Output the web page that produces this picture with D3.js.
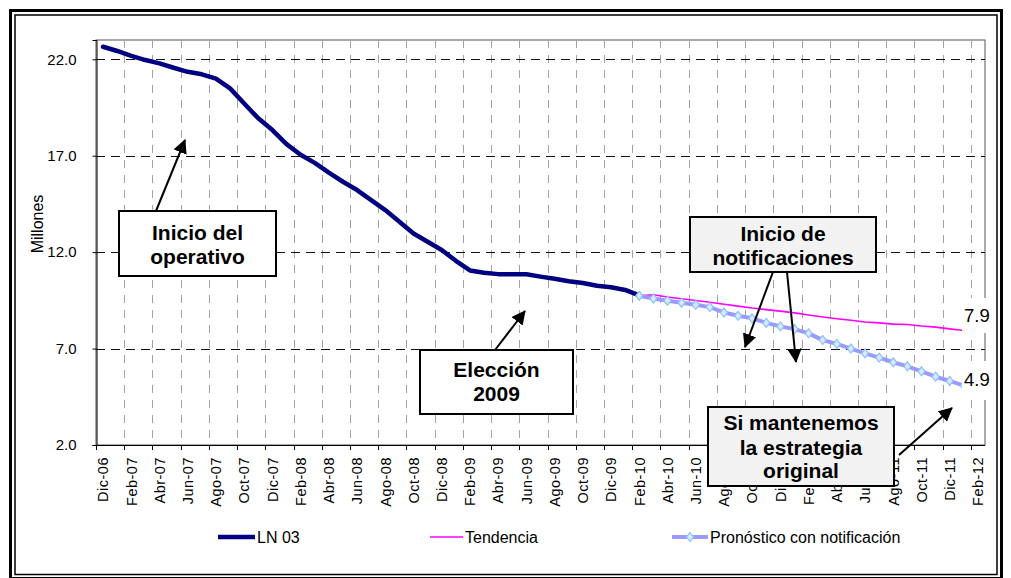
<!DOCTYPE html>
<html><head><meta charset="utf-8">
<script src="https://cdn.jsdelivr.net/npm/d3@7"></script>
<style>
html,body{margin:0;padding:0;background:#fff;}
svg{display:block;font-family:"Liberation Sans",Arial,sans-serif;}
</style></head>
<body>
<svg id="chart" width="1011" height="578"></svg>
<script>
// ---- Data ----
const months = ["Dic-06","Ene-07","Feb-07","Mar-07","Abr-07","May-07","Jun-07","Jul-07","Ago-07","Sep-07","Oct-07","Nov-07",
"Dic-07","Ene-08","Feb-08","Mar-08","Abr-08","May-08","Jun-08","Jul-08","Ago-08","Sep-08","Oct-08","Nov-08",
"Dic-08","Ene-09","Feb-09","Mar-09","Abr-09","May-09","Jun-09","Jul-09","Ago-09","Sep-09","Oct-09","Nov-09",
"Dic-09","Ene-10","Feb-10","Mar-10","Abr-10","May-10","Jun-10","Jul-10","Ago-10","Sep-10","Oct-10","Nov-10",
"Dic-10","Ene-11","Feb-11","Mar-11","Abr-11","May-11","Jun-11","Jul-11","Ago-11","Sep-11","Oct-11","Nov-11",
"Dic-11","Ene-12","Feb-12"];

// LN 03 (Dic-06 .. Feb-10)
const ln03 = [22.65,22.43,22.18,21.96,21.79,21.56,21.35,21.22,21.00,20.49,19.71,18.94,
18.33,17.60,17.05,16.63,16.12,15.65,15.22,14.70,14.18,13.58,12.97,12.54,
12.11,11.55,11.05,10.93,10.86,10.85,10.85,10.73,10.62,10.49,10.40,10.26,
10.18,10.04,9.76];

// Tendencia (Feb-10 .. Ene-12)
const tendencia = [9.74,9.79,9.67,9.58,9.49,9.40,9.30,9.20,9.10,9.02,8.94,8.85,
8.74,8.64,8.55,8.47,8.38,8.33,8.27,8.25,8.17,8.11,8.02,7.94];

// Pronóstico con notificación (Feb-10 .. Ene-12)
const pronostico = [9.74,9.60,9.48,9.38,9.27,9.15,8.87,8.70,8.57,8.33,8.15,8.01,
7.79,7.44,7.24,7.00,6.75,6.53,6.29,6.08,5.82,5.54,5.32,5.08];

const forecastStart = "Feb-10";
const yTicks = [2,7,12,17,22];
const yLabel = "Millones";
const legendNames = ["LN 03","Tendencia","Pronóstico con notificación"];
const endLabels = ["7.9","4.9"];

// ---- Layout ----
const svg = d3.select("#chart");
const L = 96, R = 985, T = 40, B = 445;

// frame
svg.append("rect").attr("x",10.5).attr("y",10.5).attr("width",991).attr("height",568)
  .attr("fill","none").attr("stroke","#000").attr("stroke-width",3);
svg.append("rect").attr("x",15).attr("y",15).attr("width",982).attr("height",559.5)
  .attr("fill","none").attr("stroke","#000").attr("stroke-width",1.5);

const x = d3.scaleBand().domain(months).range([L,R]).paddingInner(0).paddingOuter(0);
const bw = x.bandwidth();
const cx = m => x(m) + bw/2;
const y = d3.scaleLinear().domain([2,23]).range([B,T]);

// plot area
svg.append("rect").attr("x",L).attr("y",T).attr("width",R-L).attr("height",B-T)
  .attr("fill","#fff").attr("stroke","#555").attr("stroke-width",1);

// vertical gridlines
const gridMonths = months.filter((m,i)=> i>0 && i%2===0);
svg.append("g").selectAll("line").data(gridMonths).join("line")
  .attr("x1",d=>Math.round(x(d))+0.5).attr("x2",d=>Math.round(x(d))+0.5)
  .attr("y1",T).attr("y2",B)
  .attr("stroke","#a3a3a3").attr("stroke-width",1).attr("stroke-dasharray","8,7");

// horizontal gridlines
svg.append("g").selectAll("line").data(yTicks.filter(v=>v>2)).join("line")
  .attr("x1",L).attr("x2",R)
  .attr("y1",d=>Math.round(y(d))+0.5).attr("y2",d=>Math.round(y(d))+0.5)
  .attr("stroke","#111").attr("stroke-width",1).attr("stroke-dasharray","9,6");

// Y axis
const yAxis = d3.axisLeft(y).tickValues(yTicks).tickFormat(d3.format(".1f")).tickSize(4).tickPadding(16);
const gy = svg.append("g").attr("transform",`translate(${L+0.5},0)`).call(yAxis);
gy.select(".domain").attr("stroke","#000");
gy.selectAll(".tick line").attr("stroke","#000");
gy.selectAll(".tick text").attr("font-size",15).attr("fill","#000")
  .attr("font-family","'Liberation Sans',Arial,sans-serif");

// X axis (ticks at category boundaries every 2)
const gx = svg.append("g");
gx.append("line").attr("x1",L).attr("x2",R).attr("y1",B+0.5).attr("y2",B+0.5).attr("stroke","#000");
gx.selectAll(".xt").data(months.filter((m,i)=>i%2===0)).join("line").attr("class","xt")
  .attr("x1",d=>Math.round(x(d))+0.5).attr("x2",d=>Math.round(x(d))+0.5)
  .attr("y1",B).attr("y2",B+5).attr("stroke","#000");
gx.selectAll("text").data(months.filter((m,i)=>i%2===0)).join("text")
  .attr("transform",d=>`translate(${cx(d)},${B+12}) rotate(-90)`)
  .attr("text-anchor","end").attr("dy","0.36em")
  .attr("font-size",14.5).attr("letter-spacing","0.5px").attr("fill","#000").text(d=>d);

// Y label
svg.append("text").attr("transform","translate(37,224) rotate(-90)")
  .attr("text-anchor","middle").attr("dy","0.35em").attr("font-size",16).text(yLabel);

// ---- Series ----
const fIdx = months.indexOf(forecastStart);
const lnData = ln03.map((v,i)=>({m:months[i],v}));
const trData = tendencia.map((v,i)=>({m:months[fIdx+i],v}));
const prData = pronostico.map((v,i)=>({m:months[fIdx+i],v}));
const line = d3.line().x(d=>cx(d.m)).y(d=>y(d.v));

svg.append("path").datum(trData).attr("d",line).attr("fill","none")
  .attr("stroke","#ff00ff").attr("stroke-width",1.6);
svg.append("path").datum(prData).attr("d",line).attr("fill","none")
  .attr("stroke","#9b9bff").attr("stroke-width",4).attr("stroke-linejoin","round");
svg.append("path").datum(lnData).attr("d",line).attr("fill","none")
  .attr("stroke","#000080").attr("stroke-width",4.5).attr("stroke-linejoin","round").attr("stroke-linecap","round");

const diamond = (px,py)=>`M${px},${py-4.5}L${px+3.5},${py}L${px},${py+4.5}L${px-3.5},${py}Z`;
svg.append("g").selectAll("path").data(prData).join("path")
  .attr("d",d=>diamond(cx(d.m),y(d.v)))
  .attr("fill","#dfe6ff").attr("stroke","#86c3ff").attr("stroke-width",1.2);

// end labels with white background
[[endLabels[0],298,333,321.5],[endLabels[1],361,400,386]].forEach(([t,y0,y1,base])=>{
  svg.append("rect").attr("x",962).attr("y",y0).attr("width",34).attr("height",y1-y0).attr("fill","#fff");
  svg.append("text").attr("x",964).attr("y",base).attr("font-size",18.5).attr("fill","#000").text(t);
});

// ---- Annotations ----
const defs = svg.append("defs");
defs.append("marker").attr("id","ah").attr("viewBox","0 0 14 14").attr("refX",13).attr("refY",7)
  .attr("markerWidth",14).attr("markerHeight",14).attr("markerUnits","userSpaceOnUse").attr("orient","auto")
  .append("path").attr("d","M0,0L14,7L0,14Z").attr("fill","#000");

function arrow(x1,y1,x2,y2){
  svg.append("line").attr("x1",x1).attr("y1",y1).attr("x2",x2).attr("y2",y2)
    .attr("stroke","#000").attr("stroke-width",2).attr("marker-end","url(#ah)");
}
function box(x0,y0,x1,y1,fill,lines,bases){
  svg.append("rect").attr("x",x0).attr("y",y0).attr("width",x1-x0).attr("height",y1-y0)
    .attr("fill",fill).attr("stroke","#000").attr("stroke-width",2);
  lines.forEach((t,i)=>svg.append("text").attr("x",(x0+x1)/2).attr("y",bases[i])
    .attr("text-anchor","middle").attr("font-size",21).attr("font-weight","bold").attr("fill","#000").text(t));
}

arrow(156,211,185,140);
box(119,211,276,276,"#fff",["Inicio del","operativo"],[240,264]);

arrow(495,350,525,311);
box(420,350,573,414,"#fff",["Elección","2009"],[377,401]);

arrow(773,272,745,347);
arrow(787,272,796,362);
box(690,217,876,272,"#f2f2f2",["Inicio de","notificaciones"],[241,265]);

arrow(899,455,952,408);
box(708,407,894,486,"#f2f2f2",["Si mantenemos","la estrategia","original"],[430,455,478]);

// ---- Legend ----
const lg = svg.append("g");
const ly = 537;
lg.append("line").attr("x1",218).attr("x2",255).attr("y1",ly).attr("y2",ly).attr("stroke","#000080").attr("stroke-width",4.5);
lg.append("text").attr("x",257).attr("y",ly).attr("dy","0.35em").attr("font-size",16).text(legendNames[0]);
lg.append("line").attr("x1",430).attr("x2",463).attr("y1",ly).attr("y2",ly).attr("stroke","#ff00ff").attr("stroke-width",1.6);
lg.append("text").attr("x",465).attr("y",ly).attr("dy","0.35em").attr("font-size",16).text(legendNames[1]);
lg.append("line").attr("x1",672).attr("x2",708).attr("y1",ly).attr("y2",ly).attr("stroke","#9b9bff").attr("stroke-width",4);
lg.append("path").attr("d",diamond(690,ly)).attr("fill","#dfe6ff").attr("stroke","#86c3ff").attr("stroke-width",1.2);
lg.append("text").attr("x",710).attr("y",ly).attr("dy","0.35em").attr("font-size",16).text(legendNames[2]);
</script>
</body></html>
